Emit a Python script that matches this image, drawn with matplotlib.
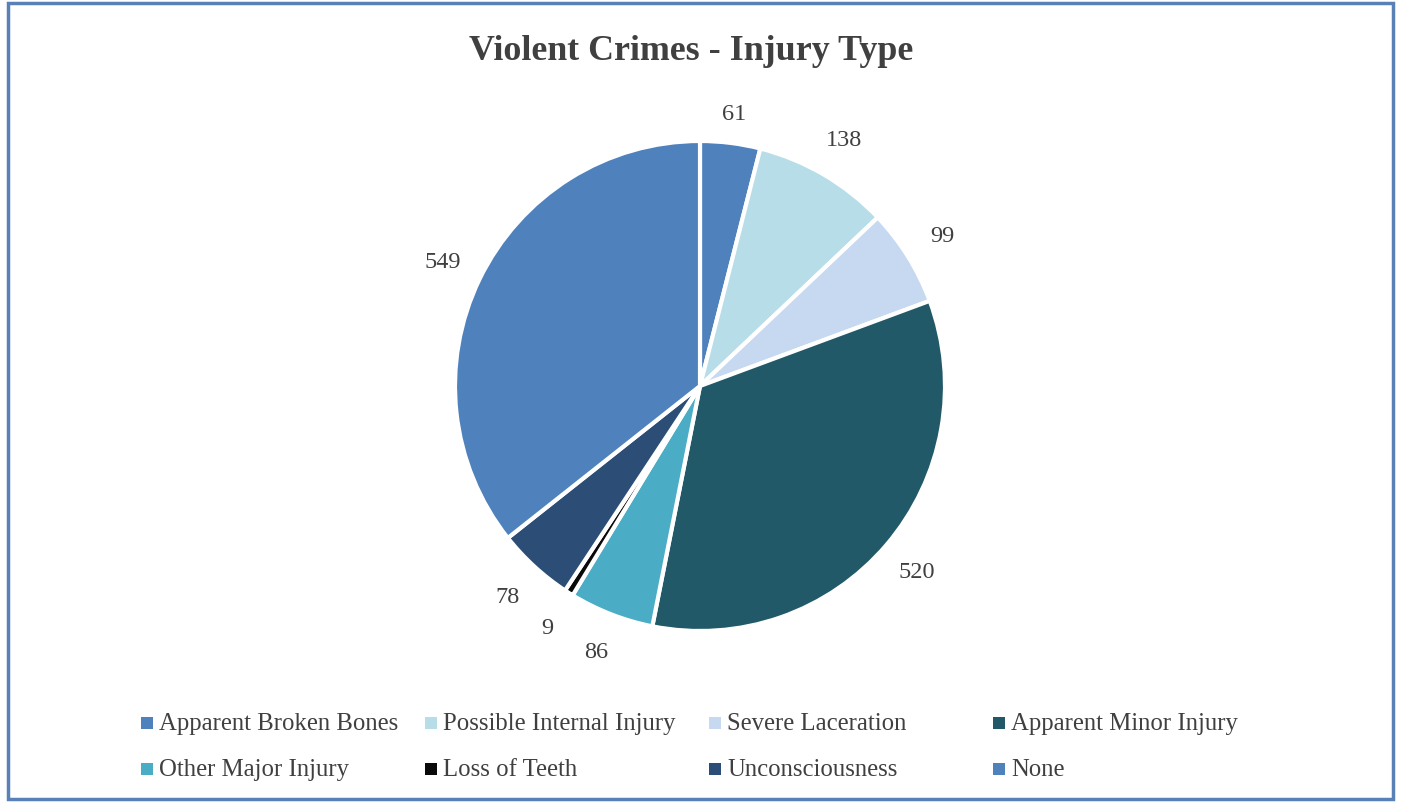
import numpy as np
import matplotlib.pyplot as plt
from matplotlib.patches import Rectangle

plt.rcParams['font.family'] = ['Liberation Serif', 'DejaVu Serif']

categories = ['Apparent Broken Bones', 'Possible Internal Injury', 'Severe Laceration',
              'Apparent Minor Injury', 'Other Major Injury', 'Loss of Teeth',
              'Unconsciousness', 'None']
values = [61, 138, 99, 520, 86, 9, 78, 549]
colors = ['#4f81bd', '#b7dde8', '#c6d9f1', '#215968', '#4bacc6', '#0a0a0a',
          '#2c4d75', '#4f81bd']

W, H = 1401, 804
fig = plt.figure(figsize=(W / 100, H / 100), dpi=100)

# outer frame
fig.patches.append(Rectangle((8 / W, 4 / H), (1393 - 8) / W, (800 - 4) / H,
                             transform=fig.transFigure, fill=False,
                             edgecolor='#5a80b8', linewidth=2.5))

fig.text(691 / W, 1 - 51 / H, 'Violent Crimes - Injury Type', ha='center', va='center',
         fontsize=25.8, fontweight='bold', color='#404040')

# pie: center (700, 387), radius 245 px
cx, cy, r, half = 700, 387, 245, 320
ax = fig.add_axes([(cx - half) / W, (H - cy - half) / H, 2 * half / W, 2 * half / H])
wedges, texts = ax.pie(values, labels=[str(v) for v in values], colors=colors,
                       startangle=90, counterclock=False, radius=1,
                       labeldistance=1.165,
                       wedgeprops=dict(edgecolor='white', linewidth=3),
                       textprops=dict(fontsize=17.5, color='#404040'))
for t in texts:
    t.set_ha('center')
    t.set_va('center')
# smallest first slice sits a little closer in
x0, y0 = texts[0].get_position()
texts[0].set_position((x0 * 1.12 / 1.165, y0 * 1.12 / 1.165))
lim = half / r
ax.set_xlim(-lim, lim)
ax.set_ylim(-lim, lim)
ax.set_aspect('equal')
ax.axis('off')

# legend, 4 columns x 2 rows
col_x = [141, 425, 709, 993]
row_y = [724, 770]
for i, (lab, col) in enumerate(zip(categories, colors)):
    x = col_x[i % 4]
    y = row_y[i // 4]
    fig.patches.append(Rectangle((x / W, (H - y - 6) / H), 12 / W, 12 / H,
                                 transform=fig.transFigure, facecolor=col,
                                 edgecolor='none'))
    fig.text((x + 18) / W, 1 - y / H, lab, ha='left', va='center',
             fontsize=17.8, color='#404040')

fig.savefig('out.png', dpi=100)
